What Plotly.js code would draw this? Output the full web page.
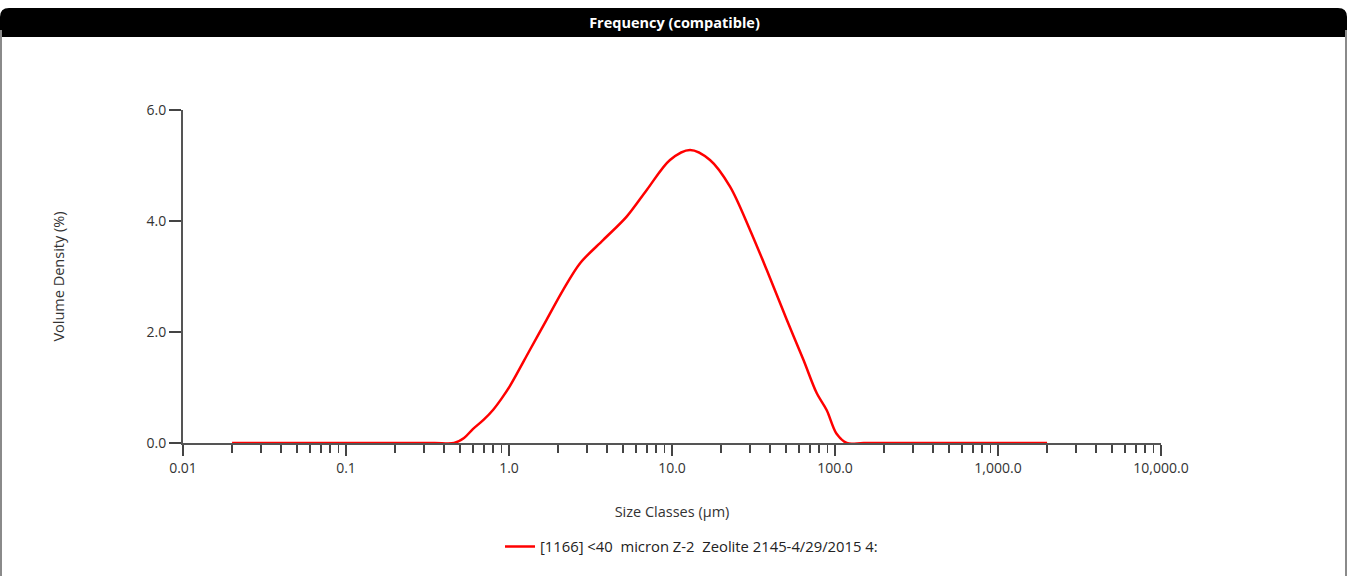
<!DOCTYPE html>
<html>
<head>
<meta charset="utf-8">
<script src="https://cdn.plot.ly/plotly-3.0.1.min.js"></script>
<style>
html,body{margin:0;padding:0;background:#fff;}
#chart{width:1349px;height:576px;}
</style>
</head>
<body>
<div id="chart"></div>
<script>
// Size classes (µm) and volume density (%)
const sizeClasses = [0.02, 0.05, 0.1, 0.2, 0.35, 0.46, 0.53, 0.60, 0.70, 0.80, 0.90, 1.01, 1.345, 1.70, 2.15, 2.73, 3.79, 5.27, 7.0, 9.72, 12.9, 17.1, 22.7, 30.1, 38.1, 50.6, 64, 77.2, 89, 102, 118, 150, 300, 700, 1200, 2000];
const volumeDensity = [0, 0, 0, 0, 0, 0, 0.09, 0.25, 0.42, 0.60, 0.80, 1.02, 1.68, 2.22, 2.76, 3.24, 3.66, 4.08, 4.56, 5.10, 5.28, 5.10, 4.62, 3.84, 3.12, 2.22, 1.50, 0.90, 0.59, 0.17, 0, 0, 0, 0, 0, 0];
const xTickVals = [0.01, 0.1, 1, 10, 100, 1000, 10000];
const xTickText = ["0.01", "0.1", "1.0", "10.0", "100.0", "1,000.0", "10,000.0"];
const yTickVals = [0, 2, 4, 6];
const yTickText = ["0.0", "2.0", "4.0", "6.0"];
const seriesName = "[1166] &lt;40\u00a0\u00a0micron Z-2\u00a0\u00a0Zeolite 2145-4/29/2015 4:";

// minor ticks: 2..9 in each decade
const minorVals = [];
for (let d = -2; d < 4; d++) {
  for (let m = 2; m <= 9; m++) minorVals.push(m * Math.pow(10, d));
}

const W = 1349, H = 576;
const L = 183, R = 1161, T = 110, B = 443;
const pw = R - L, ph = B - T;
function px(x) { return (x - L) / pw; }
function py(y) { return (B - y) / ph; }

// rounded-top black header bar path (paper coords)
const bx0 = px(0), bx1 = px(1347), by0 = py(8), by1 = py(37);
const rx = 9 / pw, ry = 9 / ph;
const headerPath = `M ${bx0} ${by1} L ${bx0} ${by0 - ry} Q ${bx0} ${by0} ${bx0 + rx} ${by0} L ${bx1 - rx} ${by0} Q ${bx1} ${by0} ${bx1} ${by0 - ry} L ${bx1} ${by1} Z`;
const framePath = `M ${px(1)} ${py(30)} L ${px(1)} ${py(577)} M ${px(1346)} ${py(30)} L ${px(1346)} ${py(577)}`;

const font = "'Open Sans', 'Segoe UI', sans-serif";

Plotly.newPlot('chart', [{
  x: sizeClasses,
  y: volumeDensity,
  type: 'scatter',
  mode: 'lines',
  name: seriesName,
  line: {color: '#ff0000', width: 2.5, shape: 'spline', smoothing: 0.9},
  showlegend: true
}], {
  width: W, height: H,
  margin: {l: L, r: W - R, t: T, b: H - B, pad: 0},
  paper_bgcolor: '#ffffff',
  plot_bgcolor: '#ffffff',
  font: {family: font, color: '#333333', size: 14},
  title: {
    text: '<b>Frequency (compatible)</b>',
    font: {family: font, color: '#ffffff', size: 14.5},
    x: 0.5, xref: 'container', xanchor: 'center',
    y: 1 - 23 / H, yref: 'container', yanchor: 'middle'
  },
  xaxis: {
    type: 'log',
    range: [-2, 4],
    tickmode: 'array',
    tickvals: xTickVals,
    ticktext: xTickText,
    ticks: 'outside', ticklen: 11, tickwidth: 1.5, tickcolor: '#444',
    showline: true, linecolor: '#555', linewidth: 2,
    showgrid: false, zeroline: false,
    tickfont: {family: font, size: 14, color: '#333'},
    minor: {tickmode: 'array', tickvals: minorVals, ticks: 'outside', ticklen: 8, tickwidth: 1.5, tickcolor: '#444', showgrid: false},
    title: {text: 'Size Classes (µm)', font: {family: font, size: 14.5, color: '#333'}, standoff: 31}
  },
  yaxis: {
    range: [0, 6],
    tickmode: 'array',
    tickvals: yTickVals,
    ticktext: yTickText,
    ticks: 'outside', ticklen: 12, tickwidth: 1.5, tickcolor: '#444',
    showline: true, linecolor: '#555', linewidth: 2,
    showgrid: false, zeroline: false,
    tickfont: {family: font, size: 14, color: '#333'},
    title: {text: 'Volume Density (%)', font: {family: font, size: 14.5, color: '#333'}, standoff: 78}
  },
  legend: {
    orientation: 'h',
    x: px(500), xanchor: 'left',
    y: py(547), yanchor: 'middle',
    font: {family: font, size: 14.8, color: '#222'},
    bgcolor: 'rgba(0,0,0,0)'
  },
  shapes: [
    {type: 'path', xref: 'paper', yref: 'paper', path: headerPath, fillcolor: '#000000', line: {width: 0}, layer: 'below'},
    {type: 'path', xref: 'paper', yref: 'paper', path: framePath, line: {color: '#8a8a8a', width: 2}, layer: 'below'}
  ]
}, {displayModeBar: false, staticPlot: true});
</script>
</body>
</html>
